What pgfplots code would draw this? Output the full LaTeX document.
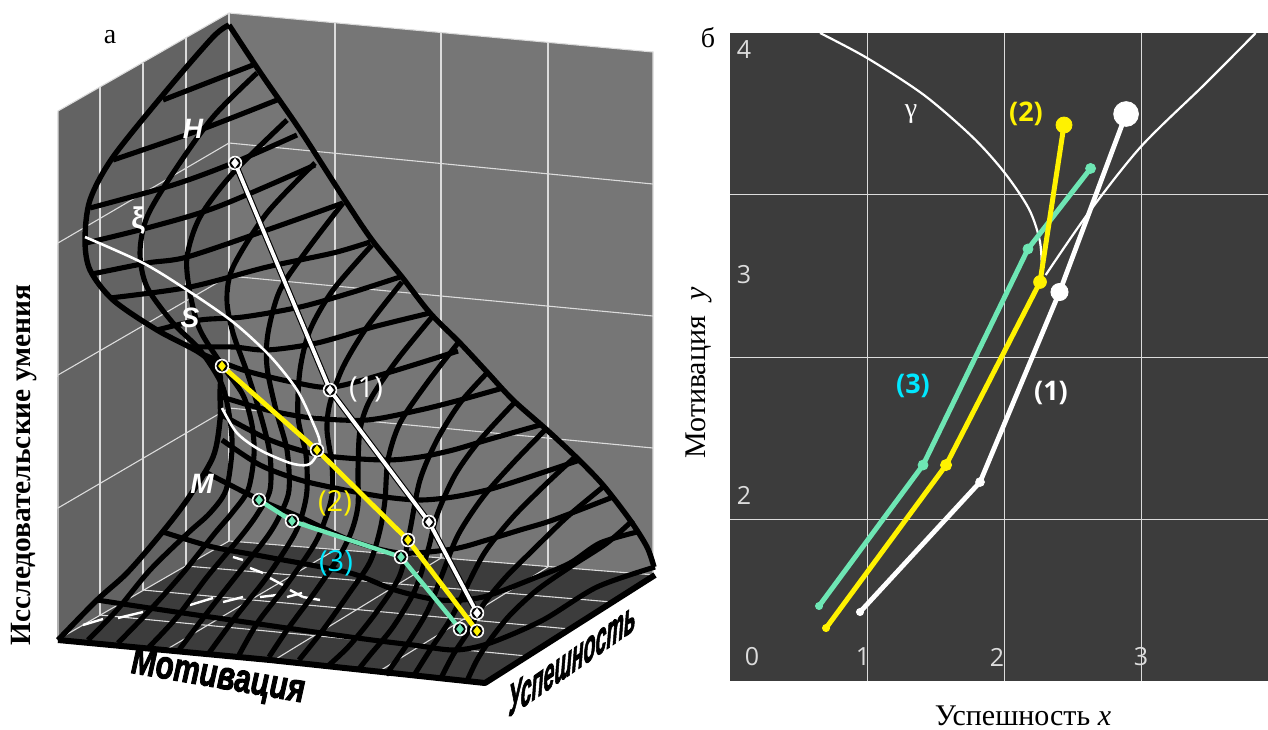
\documentclass[border=0pt]{standalone}
\usepackage{fontspec}
\usepackage{pgfplots}
\pgfplotsset{compat=1.18}
\setmainfont{Liberation Serif}
\newfontfamily\ars{Liberation Sans}
\newfontfamily\arh[BoldItalicFeatures={FakeBold=2.5}]{Liberation Sans}
\newfontfamily\opn{Open Sans}
\definecolor{wallL}{HTML}{636363}
\definecolor{wallR}{HTML}{767676}
\definecolor{floorc}{HTML}{3C3C3C}
\definecolor{gl}{HTML}{DCDCDC}
\definecolor{mint}{HTML}{6EE6B4}
\definecolor{panel}{HTML}{3C3C3C}
\definecolor{cy}{HTML}{00E8FF}
\pgfplotsset{
 wire/.style={black,line width=2.55pt,smooth,line join=round},
 gline/.style={gl,line width=0.55pt},
 fl/.style={white,line width=1.2pt},
}
\newcommand\T[4][]{\node[inner sep=0pt,#1] at ({#2*0.5pt},{(729-#3)*0.5pt}) {#4};}
\begin{document}
\begin{tikzpicture}
\path[use as bounding box] (0,0) rectangle (634pt,364.5pt);
\begin{axis}[at={(0,0)},anchor=south west,scale only axis,width=634pt,height=364.5pt,
 xmin=0,xmax=1268,ymin=0,ymax=729,y dir=reverse,hide axis,clip=false]
% walls and floor
\addplot[fill=wallL,draw=none] coordinates {(58,111)(229,13)(229,541)(57,640)} --cycle;
\addplot[fill=wallR,draw=none] coordinates {(229,13)(653,52)(653,575)(229,541)} --cycle;
\addplot[fill=floorc,draw=none] coordinates {(57,640)(229,541)(655,575)(485,683)} --cycle;
% wall grid
\addplot[gline] coordinates {(58,640)(58,111)(229,13)(653,52)(653,575)};
\addplot[gline] coordinates {(229,13)(229,541)};
\addplot[gline] coordinates {(100,87)(100,616)};
\addplot[gline] coordinates {(143,63)(143,590)};
\addplot[gline] coordinates {(186,38)(186,566)};
\addplot[gline] coordinates {(335,23)(335,550)};
\addplot[gline] coordinates {(441,33)(441,558)};
\addplot[gline] coordinates {(548,42)(548,567)};
\addplot[gline] coordinates {(58,243)(229,143)(653,184)};
\addplot[gline] coordinates {(58,375)(229,276)(653,316)};
\addplot[gline] coordinates {(58,508)(229,408)(653,448)};
% floor grid
\addplot[gline] coordinates {(57,640)(229,541)(655,575)};
\addplot[gline] coordinates {(100,615)(527,656)};
\addplot[gline] coordinates {(143,590)(570,629)};
\addplot[gline] coordinates {(186,566)(612,602)};
\addplot[gline] coordinates {(164,651)(335,550)};
\addplot[gline] coordinates {(271,662)(441,558)};
\addplot[gline] coordinates {(378,672)(548,567)};
% cusp on the floor
\addplot[fl] coordinates {(83,625)(103,619)};
\addplot[fl] coordinates {(118,618)(143,612)};
\addplot[fl] coordinates {(190,605)(213,598)};
\addplot[fl] coordinates {(223,602)(243,597)};
\addplot[fl] coordinates {(260,597)(277,595)};
\addplot[fl] coordinates {(287,597)(302,593)};
\addplot[fl] coordinates {(233,557)(243,560)};
\addplot[fl] coordinates {(250,568)(263,573)};
\addplot[fl] coordinates {(270,578)(283,585)};
\addplot[fl] coordinates {(290,590)(303,597)};
\addplot[fl] coordinates {(303,597)(320,600)};
% family B
\addplot[wire,line width=2.7pt] coordinates {(229,25)(213,37)(167,90)(113,157)(90,200)(85,240)(90,270)(113,300)(157,330)(200,353)(219,372)(220,395)(220,420)(213,457)(187,500)(160,535)(127,573)(97,600)(58,640)};
\addplot[wire] coordinates {(257,73)(213,117)(173,173)(147,217)(140,253)(147,287)(173,323)(200,350)(222,385)(230,420)(232,450)(226,490)(210,513)(188,533)(150,570)(117,610)(88,640)};
\addplot[wire] coordinates {(287,120)(233,173)(200,217)(187,257)(190,293)(200,330)(222,365)(243,395)(252,425)(254,455)(248,490)(232,513)(215,533)(183,573)(150,610)(118,643)};
\addplot[wire] coordinates {(315,163)(267,213)(233,267)(227,300)(233,333)(248,375)(262,420)(270,455)(270,490)(258,513)(242,535)(207,577)(177,617)(149,647)};
\addplot[wire] coordinates {(343,203)(307,250)(280,290)(268,333)(267,367)(276,410)(287,450)(289,490)(280,515)(267,537)(237,575)(207,613)(179,650)};
\addplot[wire] coordinates {(372,245)(333,290)(310,330)(300,370)(298,417)(306,455)(307,490)(302,515)(293,537)(267,577)(237,615)(209,653)};
\addplot[wire] coordinates {(402,282)(367,327)(343,367)(330,403)(327,430)(332,465)(332,495)(325,520)(314,545)(285,587)(258,622)(239,655)};
\addplot[wire] coordinates {(432,317)(397,360)(370,400)(360,430)(358,470)(358,505)(352,530)(340,555)(315,592)(287,630)(269,657)};
\addplot[wire] coordinates {(458,343)(427,383)(400,423)(388,460)(385,500)(380,530)(370,562)(350,592)(323,630)(299,660)};
\addplot[wire] coordinates {(487,373)(460,403)(437,440)(420,480)(410,530)(400,575)(378,610)(350,645)(329,665)};
\addplot[wire] coordinates {(515,402)(480,440)(455,475)(437,515)(428,550)(415,590)(393,627)(370,655)(358,670)};
\addplot[wire] coordinates {(545,430)(513,463)(483,497)(458,535)(442,575)(428,610)(410,640)(386,675)};
\addplot[wire] coordinates {(575,457)(547,483)(513,517)(485,552)(465,590)(450,620)(430,650)(413,677)};
\addplot[wire] coordinates {(603,487)(567,517)(533,550)(505,578)(483,605)(468,632)(453,655)(440,680)};
\addplot[wire] coordinates {(633,520)(607,543)(570,567)(537,590)(510,615)(490,640)(477,660)(467,681)};
% silhouette on the back
\addplot[wire,line width=2.7pt] coordinates {(229,25)(262,75)(300,130)(345,200)(372,240)(402,277)(430,313)(460,343)(487,372)(513,400)(547,430)(577,458)(603,485)(630,520)(647,547)(654,567)};
% family A
\addplot[wire,line width=3pt,sharp plot] coordinates {(58,640)(270,660)(485,683)(655,575)};
\addplot[wire] coordinates {(97,600)(183,613)(350,637)(413,645)(455,650)(490,643)(543,620)(597,587)(655,567)};
\addplot[wire] coordinates {(163,532)(213,547)(267,557)(350,573)(395,590)(440,600)(483,597)(537,577)(570,563)(600,543)(637,532)};
\addplot[wire] coordinates {(205,472)(260,500)(300,517)(350,540)(400,553)(453,549)(487,540)(520,530)(553,520)(613,497)};
\addplot[wire] coordinates {(222,440)(260,465)(300,480)(345,490)(385,497)(420,500)(453,497)(487,490)(520,480)(580,460)};
\addplot[wire] coordinates {(222,415)(270,440)(320,455)(383,460)(420,457)(453,450)(487,440)(540,425)};
\addplot[wire] coordinates {(222,397)(267,410)(313,418)(367,420)(420,410)(460,400)(503,388)};
\addplot[wire] coordinates {(200,353)(243,370)(297,383)(333,387)(387,373)(458,351)};
\addplot[wire] coordinates {(190,347)(233,347)(267,350)(317,343)(373,327)(430,313)};
\addplot[wire] coordinates {(157,330)(200,320)(243,317)(300,307)(350,293)(400,277)};
\addplot[wire] coordinates {(110,298)(190,287)(267,267)(333,253)(370,242)};
\addplot[wire] coordinates {(92,274)(147,263)(187,257)(267,230)(343,203)};
\addplot[wire] coordinates {(86,243)(147,228)(217,207)(315,165)};
\addplot[wire] coordinates {(90,208)(173,185)(233,163)(297,135)};
\addplot[wire] coordinates {(113,160)(200,130)(277,100)};
\addplot[wire] coordinates {(163,100)(253,65)};
% white curve on the surface
\addplot[white,line width=1.3pt,smooth] coordinates {(85,237)(143,263)(187,290)(233,322)(270,356)(297,390)(313,423)(320,443)(315,458)(307,465)(290,463)(260,450)(237,433)(222,408)};
% trajectories
\addplot[black,line width=3pt] coordinates {(235,163)(330,390)(429,522)(477,613)};
\addplot[white,line width=1.9pt] coordinates {(235,163)(330,390)(429,522)(477,613)};
\addplot[yellow,line width=2.4pt] coordinates {(222,366)(317,450)(408,540)(477,631)};
\addplot[mint,line width=2.2pt] coordinates {(259,500)(292,521)(401,557)(460,629)};
\addplot[only marks,mark=*,mark size=3.4pt,color=white] coordinates {(235,163)(330,390)(429,522)(477,613)(222,366)(317,450)(408,540)(477,631)(259,500)(292,521)(401,557)(460,629)};
\addplot[only marks,mark=*,mark size=2.6pt,color=black] coordinates {(235,163)(330,390)(429,522)(477,613)(222,366)(317,450)(408,540)(477,631)(259,500)(292,521)(401,557)(460,629)};
\addplot[only marks,mark=diamond*,mark size=2.2pt,color=white] coordinates {(235,163)(330,390)(429,522)(477,613)};
\addplot[only marks,mark=diamond*,mark size=2.2pt,color=yellow] coordinates {(222,366)(317,450)(408,540)(477,631)};
\addplot[only marks,mark=diamond*,mark size=2.2pt,color=mint] coordinates {(259,500)(292,521)(401,557)(460,629)};
\end{axis}
% right panel
\begin{axis}[at={(365pt,24pt)},anchor=south west,scale only axis,width=269pt,height=324pt,
 xmin=0,xmax=3.927,ymin=0,ymax=4,axis background/.style={fill=panel},axis line style={draw=none},
 xtick={1,2,3},ytick={1,2,3},xticklabels={},yticklabels={},major tick length=0pt,
 grid=major,grid style={draw=gl,line width=0.5pt},clip=true]
\addplot[white,line width=1.1pt,smooth] coordinates {(0.657,4.0)(1.0,3.846)(1.416,3.617)(1.770,3.358)(2.0,3.142)(2.182,2.914)(2.263,2.710)(2.277,2.506)};
\addplot[white,line width=1.1pt,smooth] coordinates {(2.304,2.506)(2.611,2.883)(3.0,3.299)(3.467,3.685)(3.837,4.0)};
\addplot[mint,line width=2.5pt] coordinates {(0.650,0.463)(1.409,1.333)(2.175,2.667)(2.632,3.164)};
\addplot[white,line width=2.4pt] coordinates {(0.949,0.426)(1.825,1.228)(2.405,2.401)(2.891,3.500)};
\addplot[yellow,line width=2.5pt] coordinates {(0.701,0.327)(1.577,1.333)(2.263,2.463)(2.438,3.432)};
\addplot[only marks,mark=*,mark size=1.8pt,color=mint] coordinates {(0.650,0.463)};
\addplot[only marks,mark=*,mark size=2.5pt,color=mint] coordinates {(1.409,1.333)(2.175,2.667)(2.632,3.164)};
\addplot[only marks,mark=*,mark size=1.8pt,color=white] coordinates {(0.949,0.426)};
\addplot[only marks,mark=*,mark size=2.2pt,color=white] coordinates {(1.825,1.228)};
\addplot[only marks,mark=*,mark size=4.3pt,color=white] coordinates {(2.405,2.401)};
\addplot[only marks,mark=*,mark size=6.2pt,color=white] coordinates {(2.891,3.500)};
\addplot[only marks,mark=*,mark size=1.8pt,color=yellow] coordinates {(0.701,0.327)};
\addplot[only marks,mark=*,mark size=2.8pt,color=yellow] coordinates {(1.577,1.333)};
\addplot[only marks,mark=*,mark size=3.2pt,color=yellow] coordinates {(2.263,2.463)};
\addplot[only marks,mark=*,mark size=4pt,color=yellow] coordinates {(2.438,3.432)};
\end{axis}
% texts, left panel
\T[font=\fontsize{14pt}{14pt}\selectfont]{110}{37}{а}
\T[font=\fontsize{14.7pt}{14.7pt}\selectfont\bfseries,rotate=90]{24}{465}{Исследовательские умения}
\T[font=\ars\fontsize{14pt}{14pt}\selectfont\bfseries\itshape,white]{193}{129}{H}
\T[font=\ars\fontsize{14pt}{14pt}\selectfont\bfseries\itshape,white]{190}{318}{S}
\T[font=\ars\fontsize{14pt}{14pt}\selectfont\bfseries\itshape,white]{202}{484}{M}
\T[font=\ars\fontsize{15pt}{15pt}\selectfont\bfseries,white]{138}{221}{ξ}
\T[font=\opn\fontsize{14.5pt}{14.5pt}\selectfont,white]{366}{389}{(1)}
\T[font=\opn\fontsize{14.5pt}{14.5pt}\selectfont,yellow]{335}{503}{(2)}
\T[font=\opn\fontsize{14.5pt}{14.5pt}\selectfont,cy]{336}{563}{(3)}
\T[font=\arh\fontsize{14.8pt}{14.8pt}\selectfont\bfseries\itshape,cm={0.985,-0.17,0.1,1.35,(0,0)},transform shape]{218}{678}{Мотивация}
\T[font=\arh\fontsize{15pt}{15pt}\selectfont\bfseries\itshape,cm={0.652,0.453,0,1.5,(0,0)},transform shape]{572}{658}{Успешность}
% texts, right panel
\T[font=\fontsize{14pt}{14pt}\selectfont]{708}{38}{б}
\T[font=\opn\fontsize{12.5pt}{12.5pt}\selectfont,gl]{744}{50}{4}
\T[font=\opn\fontsize{12.5pt}{12.5pt}\selectfont,gl]{744}{275}{3}
\T[font=\opn\fontsize{12.5pt}{12.5pt}\selectfont,gl]{744}{495}{2}
\T[font=\opn\fontsize{12.5pt}{12.5pt}\selectfont,gl]{752}{657}{0}
\T[font=\opn\fontsize{12.5pt}{12.5pt}\selectfont,gl]{863}{657}{1}
\T[font=\opn\fontsize{12.5pt}{12.5pt}\selectfont,gl]{997}{657}{2}
\T[font=\opn\fontsize{12.5pt}{12.5pt}\selectfont,gl]{1141}{657}{3}
\T[font=\fontsize{14pt}{14pt}\selectfont,white]{911}{114}{γ}
\T[font=\opn\fontsize{13.5pt}{13.5pt}\selectfont\bfseries,yellow]{1026}{114}{(2)}
\T[font=\opn\fontsize{13.5pt}{13.5pt}\selectfont\bfseries,cy]{913}{386}{(3)}
\T[font=\opn\fontsize{13.5pt}{13.5pt}\selectfont\bfseries,white]{1051}{393}{(1)}
\T[font=\fontsize{15pt}{15pt}\selectfont]{1023}{716}{Успешность \textit{x}}
\T[font=\fontsize{15pt}{15pt}\selectfont,rotate=90]{699}{373}{Мотивация\ \ \textit{y}}
\end{tikzpicture}
\end{document}
